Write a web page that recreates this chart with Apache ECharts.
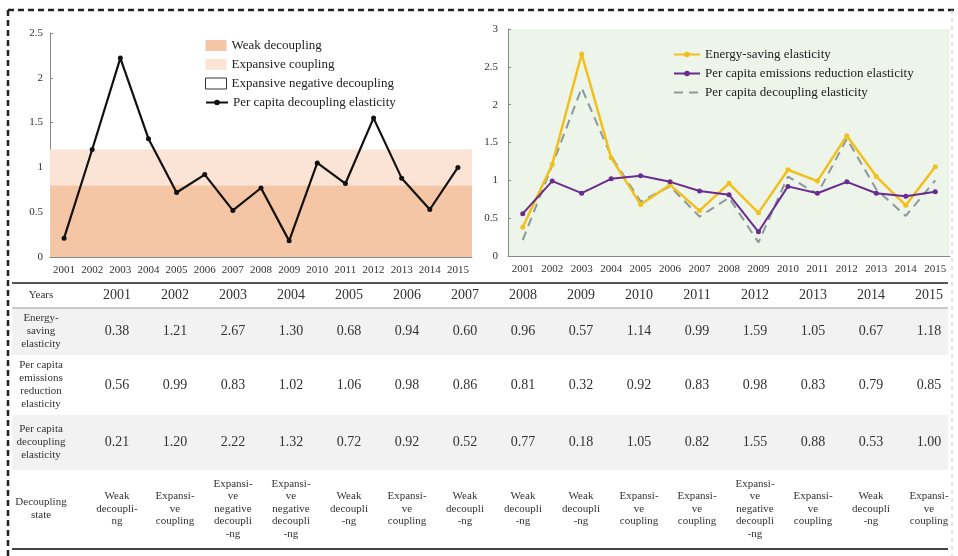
<!DOCTYPE html>
<html><head><meta charset="utf-8">
<script src="https://cdn.jsdelivr.net/npm/echarts@6/dist/echarts.min.js"></script>
<style>html,body{margin:0;padding:0;background:#fff}#c{width:958px;height:556px}</style>
</head><body><div id="c"></div>
<script>
const years = ['2001','2002','2003','2004','2005','2006','2007','2008','2009','2010','2011','2012','2013','2014','2015'];
const energySaving = [0.38,1.21,2.67,1.30,0.68,0.94,0.60,0.96,0.57,1.14,0.99,1.59,1.05,0.67,1.18];
const emissionsReduction = [0.56,0.99,0.83,1.02,1.06,0.98,0.86,0.81,0.32,0.92,0.83,0.98,0.83,0.79,0.85];
const decouplingElasticity = [0.21,1.20,2.22,1.32,0.72,0.92,0.52,0.77,0.18,1.05,0.82,1.55,0.88,0.53,1.00];
const WD = 'Weak\ndecoupli-\nng', WD2 = 'Weak\ndecoupli\n-ng', EC = 'Expansi-\nve\ncoupling', END = 'Expansi-\nve\nnegative\ndecoupli\n-ng';
const decouplingState = [WD, EC, END, END, WD2, EC, WD2, WD2, WD2, EC, EC, END, EC, WD2, EC];
const weakBand = [0, 0.8];
const expansiveBand = [0.8, 1.2];
const rowLabels = ['Years', 'Energy-\nsaving\nelasticity', 'Per capita\nemissions\nreduction\nelasticity', 'Per capita\ndecoupling\nelasticity', 'Decoupling\nstate'];

const FF = "'Liberation Serif','Times New Roman',serif";
const TXT = '#333';

const tL = 12, tR = 948;
const rowB = [283, 308, 355, 415, 470, 548];
const labelX = 41, col0 = 117, colStep = 58;
const g = [];
g.push({type:'line', shape:{x1:8,y1:10,x2:958,y2:10}, style:{stroke:'#222', lineWidth:2.5, lineDash:[6,4]}});
g.push({type:'line', shape:{x1:8,y1:10,x2:8,y2:556}, style:{stroke:'#222', lineWidth:2.5, lineDash:[6,4]}});
g.push({type:'line', shape:{x1:952,y1:10,x2:952,y2:556}, style:{stroke:'#ccc', lineWidth:1, lineDash:[4,4]}});
[1,3].forEach(r => g.push({type:'rect', z:-1, shape:{x:tL, y:rowB[r], width:tR-tL, height:rowB[r+1]-rowB[r]}, style:{fill:'#f2f2f2'}}));
g.push({type:'line', shape:{x1:tL,y1:rowB[0],x2:tR,y2:rowB[0]}, style:{stroke:'#555', lineWidth:2}});
g.push({type:'line', shape:{x1:tL,y1:rowB[1],x2:tR,y2:rowB[1]}, style:{stroke:'#999', lineWidth:1}});
g.push({type:'line', shape:{x1:tL,y1:rowB[5]+1,x2:tR,y2:rowB[5]+1}, style:{stroke:'#444', lineWidth:2}});
function txt(s, x, y, size, lh){
  g.push({type:'text', style:{text:s, x:x, y:y, align:'center', verticalAlign:'middle', font: size+'px '+FF, fill:TXT, lineHeight:lh||size+1}});
}
rowLabels.forEach((s,r) => txt(s, labelX, (rowB[r]+rowB[r+1])/2, 11, 13));
const rowsVals = [years, energySaving.map(v=>v.toFixed(2)), emissionsReduction.map(v=>v.toFixed(2)), decouplingElasticity.map(v=>v.toFixed(2))];
rowsVals.forEach((arr, r) => arr.forEach((s,i) => txt(s, col0 + i*colStep, (rowB[r]+rowB[r+1])/2, 14)));
decouplingState.forEach((s,i) => txt(s, col0 + i*colStep, (rowB[4]+rowB[5])/2, 11, 12.5));

const axisLab = {fontFamily:FF, fontSize:11, color:TXT};
const legText = {fontFamily:FF, fontSize:13, color:'#222'};
const option = {
  animation:false,
  textStyle:{fontFamily:FF},
  grid:[
    {left:50, top:33, width:422, height:224},
    {left:508, top:29, width:442, height:227, show:true, backgroundColor:'#edf4e9', borderWidth:0}
  ],
  xAxis:[
    {type:'category', gridIndex:0, data:years, axisLine:{lineStyle:{color:'#888'}}, axisTick:{inside:true, length:4, lineStyle:{color:'#888'}}, axisLabel:Object.assign({margin:8, interval:0}, axisLab)},
    {type:'category', gridIndex:1, data:years, axisLine:{lineStyle:{color:'#888'}}, axisTick:{inside:true, length:4, lineStyle:{color:'#888'}}, axisLabel:Object.assign({margin:8, interval:0}, axisLab)}
  ],
  yAxis:[
    {type:'value', gridIndex:0, min:0, max:2.5, interval:0.5, axisLine:{show:true, lineStyle:{color:'#888'}}, axisTick:{show:true, inside:true, length:3, lineStyle:{color:'#888'}}, splitLine:{show:false}, axisLabel:Object.assign({margin:7}, axisLab)},
    {type:'value', gridIndex:1, min:0, max:3, interval:0.5, axisLine:{show:true, lineStyle:{color:'#888'}}, axisTick:{show:true, inside:true, length:3, lineStyle:{color:'#888'}}, splitLine:{show:false}, axisLabel:Object.assign({margin:10}, axisLab)}
  ],
  legend:[
    {left:200, top:34, orient:'vertical', itemGap:6, itemWidth:21, itemHeight:11, selectedMode:false, textStyle:legText,
     data:[
       {name:'Weak decoupling', icon:'rect', itemStyle:{color:'#f5c6a5', borderWidth:0}},
       {name:'Expansive coupling', icon:'rect', itemStyle:{color:'#fbe4d5', borderWidth:0}},
       {name:'Expansive negative decoupling', icon:'rect', itemStyle:{color:'#fff', borderColor:'#333', borderWidth:1}}
     ]},
    {left:200, top:91, orient:'vertical', itemWidth:22, itemHeight:7, selectedMode:false, textStyle:legText,
     data:['Per capita decoupling elasticity']},
    {left:668, top:43, orient:'vertical', itemGap:6, itemWidth:26, itemHeight:7, selectedMode:false, textStyle:legText,
     data:['Energy-saving elasticity','Per capita emissions reduction elasticity',
       {name:'Per capita decoupling elasticity ', itemStyle:{color:'rgba(0,0,0,0)', borderWidth:0, opacity:0}}]}
  ],
  series:[
    {name:'Weak decoupling', type:'bar', xAxisIndex:0, yAxisIndex:0, data:[], itemStyle:{color:'#f5c6a5'}},
    {name:'Expansive coupling', type:'bar', xAxisIndex:0, yAxisIndex:0, data:[], itemStyle:{color:'#fbe4d5'}},
    {name:'Expansive negative decoupling', type:'bar', xAxisIndex:0, yAxisIndex:0, data:[], itemStyle:{color:'#fff', borderColor:'#333', borderWidth:1}},
    {name:'Per capita decoupling elasticity', type:'line', xAxisIndex:0, yAxisIndex:0, data:decouplingElasticity,
     symbol:'circle', symbolSize:5, lineStyle:{color:'#111', width:2.2}, itemStyle:{color:'#111'},
     markArea:{silent:true, data:[
       [{yAxis:weakBand[0], itemStyle:{color:'#f5c6a5'}},{yAxis:weakBand[1]}],
       [{yAxis:expansiveBand[0], itemStyle:{color:'#fbe4d5'}},{yAxis:expansiveBand[1]}]
     ]}},
    {name:'Per capita decoupling elasticity ', type:'line', xAxisIndex:1, yAxisIndex:1, data:decouplingElasticity,
     symbol:'none', lineStyle:{color:'#8a999c', width:2, type:[9,6]}, itemStyle:{color:'#8a999c'}},
    {name:'Energy-saving elasticity', type:'line', xAxisIndex:1, yAxisIndex:1, data:energySaving,
     symbol:'circle', symbolSize:5, lineStyle:{color:'#f2c01c', width:2.5}, itemStyle:{color:'#f2c01c'}},
    {name:'Per capita emissions reduction elasticity', type:'line', xAxisIndex:1, yAxisIndex:1, data:emissionsReduction,
     symbol:'circle', symbolSize:5, lineStyle:{color:'#6a2c8e', width:2}, itemStyle:{color:'#6a2c8e'}}
  ],
  graphic:g
};
const chart = echarts.init(document.getElementById('c'), null, {renderer:'canvas'});
chart.setOption(option);
</script></body></html>
